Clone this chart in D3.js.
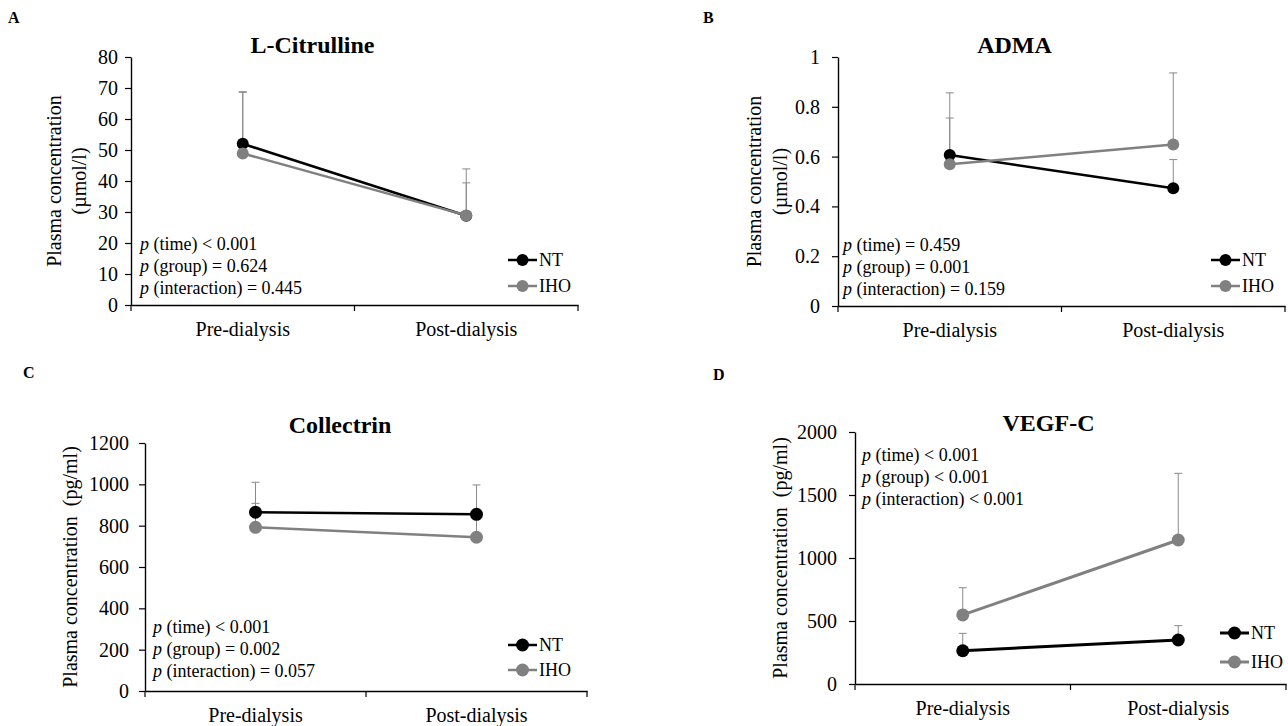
<!DOCTYPE html>
<html>
<head>
<meta charset="utf-8">
<script src="https://cdn.jsdelivr.net/npm/d3@7"></script>
<style>
  body { margin: 0; background: #fff; }
  svg { display: block; }
</style>
</head>
<body>
<div id="chart"></div>
<script>
const timepoints = ['Pre-dialysis', 'Post-dialysis'];
const groupNames = ['NT', 'IHO'];
const groupColors = ['#000000', '#808080'];

// A: L-Citrulline (µmol/l)
const citrullineNT = [52.0, 28.8];
const citrullineIHO = [48.9, 28.9];
const citrullineNTsd = [16.8, 10.6];
const citrullineIHOsd = [19.7, 15.0];
const citrullineTicks = [0, 10, 20, 30, 40, 50, 60, 70, 80];
const citrullineP = ['(time) < 0.001', '(group) = 0.624', '(interaction) = 0.445'];

// B: ADMA (µmol/l)
const admaNT = [0.606, 0.473];
const admaIHO = [0.569, 0.649];
const admaNTsd = [0.25, 0.115];
const admaIHOsd = [0.186, 0.287];
const admaTicks = [0, 0.2, 0.4, 0.6, 0.8, 1];
const admaP = ['(time) = 0.459', '(group) = 0.001', '(interaction) = 0.159'];

// C: Collectrin (pg/ml)
const collectrinNT = [865, 855];
const collectrinIHO = [792, 744];
const collectrinNTsd = [145, 142];
const collectrinIHOsd = [116, 115];
const collectrinTicks = [0, 200, 400, 600, 800, 1000, 1200];
const collectrinP = ['(time) < 0.001', '(group) = 0.002', '(interaction) = 0.057'];

// D: VEGF-C (pg/ml)
const vegfNT = [264, 349];
const vegfIHO = [548, 1143];
const vegfNTsd = [138, 114];
const vegfIHOsd = [216, 529];
const vegfTicks = [0, 500, 1000, 1500, 2000];
const vegfP = ['(time) < 0.001', '(group) < 0.001', '(interaction) < 0.001'];

const font = '"Liberation Serif", "Times New Roman", serif';

const svg = d3
  .select('#chart')
  .append('svg')
  .attr('width', 1288)
  .attr('height', 726);

const panels = [
  {
    letter: 'A', letterPos: [8, 23], title: 'L-Citrulline', titleY: 53, titleShift: -42,
    left: 131, right: 578, top: 57, bottom: 305, ticks: citrullineTicks, tickPad: 7,
    ylabel: ['Plasma concentration', '(µmol/l)'], ylabelX: [54, 79],
    pPos: [140, 244], legendPos: [508, 260], legendGap: 26, r: 6, lw: 2.5,
    series: [[citrullineNT, citrullineNTsd], [citrullineIHO, citrullineIHOsd]], texts: citrullineP
  },
  {
    letter: 'B', letterPos: [703, 23], title: 'ADMA', titleY: 53, titleShift: -47,
    left: 838, right: 1285, top: 57, bottom: 306, ticks: admaTicks, tickPad: 12,
    ylabel: ['Plasma concentration', '(µmol/l)'], ylabelX: [754, 780],
    pPos: [843, 245], legendPos: [1211, 260], legendGap: 26, r: 6, lw: 2.5,
    series: [[admaNT, admaNTsd], [admaIHO, admaIHOsd]], texts: admaP
  },
  {
    letter: 'C', letterPos: [23, 378], title: 'Collectrin', titleY: 433, titleShift: -26,
    left: 145, right: 587, top: 443, bottom: 691, ticks: collectrinTicks, tickPad: 10,
    ylabel: ['Plasma concentration  (pg/ml)'], ylabelX: [70],
    pPos: [153, 627], legendPos: [508, 645], legendGap: 25, r: 6.5, lw: 2.5,
    series: [[collectrinNT, collectrinNTsd], [collectrinIHO, collectrinIHOsd]], texts: collectrinP
  },
  {
    letter: 'D', letterPos: [713, 380], title: 'VEGF-C', titleY: 431, titleShift: -22,
    left: 855, right: 1286, top: 432, bottom: 684, ticks: vegfTicks, tickPad: 12,
    ylabel: ['Plasma concentration  (pg/ml)'], ylabelX: [780],
    pPos: [862, 455], legendPos: [1220, 633], legendGap: 29, r: 6.5, lw: 3,
    series: [[vegfNT, vegfNTsd], [vegfIHO, vegfIHOsd]], texts: vegfP
  }
];

const drawPanel = (p) => {
  const g = svg.append('g');

  const x = d3.scaleBand().domain(timepoints).range([p.left, p.right]);
  const y = d3
    .scaleLinear()
    .domain([0, p.ticks[p.ticks.length - 1]])
    .range([p.bottom, p.top]);
  const cx = (t) => x(t) + x.bandwidth() / 2;

  // panel letter
  g.append('text')
    .attr('x', p.letterPos[0])
    .attr('y', p.letterPos[1])
    .attr('font-family', font)
    .attr('font-weight', 'bold')
    .attr('font-size', 16)
    .text(p.letter);

  // title
  g.append('text')
    .attr('x', (p.left + p.right) / 2 + p.titleShift)
    .attr('y', p.titleY)
    .attr('text-anchor', 'middle')
    .attr('font-family', font)
    .attr('font-weight', 'bold')
    .attr('font-size', 24)
    .text(p.title);

  // y axis
  const yAxis = g
    .append('g')
    .attr('transform', `translate(${p.left},0)`)
    .call(
      d3.axisLeft(y)
        .tickValues(p.ticks)
        .tickFormat((d) => String(d))
        .tickSize(6)
        .tickSizeOuter(0)
        .tickPadding(p.tickPad)
    );
  yAxis.select('.domain').attr('stroke-width', 1.4);
  yAxis.selectAll('.tick line').attr('stroke-width', 1.2);
  yAxis.selectAll('text')
    .attr('font-family', font)
    .attr('font-size', 20)
    .attr('fill', '#000');

  // x axis
  const xAxis = g
    .append('g')
    .attr('transform', `translate(0,${p.bottom})`)
    .call(d3.axisBottom(x).tickSize(0).tickSizeOuter(0).tickPadding(17));
  xAxis.select('.domain').attr('stroke-width', 1.4);
  xAxis.selectAll('text')
    .attr('font-family', font)
    .attr('font-size', 20)
    .attr('fill', '#000');

  // category boundary ticks
  const bounds = timepoints.map((t) => x(t)).concat([x.range()[1]]);
  xAxis.selectAll('.bound')
    .data(bounds)
    .enter()
    .append('line')
    .attr('class', 'bound')
    .attr('x1', (d) => d)
    .attr('x2', (d) => d)
    .attr('y1', 0)
    .attr('y2', 6)
    .attr('stroke', '#000')
    .attr('stroke-width', 1.2);

  // y axis label
  p.ylabel.forEach((line, i) => {
    g.append('text')
      .attr('transform', `translate(${p.ylabelX[i]},${(p.top + p.bottom) / 2}) rotate(-90)`)
      .attr('text-anchor', 'middle')
      .attr('dy', '0.35em')
      .attr('font-family', font)
      .attr('font-size', 20)
      .style('white-space', 'pre')
      .text(line);
  });

  // p values
  p.texts.forEach((t, i) => {
    const txt = g.append('text')
      .attr('x', p.pPos[0])
      .attr('y', p.pPos[1] + i * 22)
      .attr('dy', '0.35em')
      .attr('font-family', font)
      .attr('font-size', 18);
    txt.append('tspan').attr('font-style', 'italic').text('p');
    txt.append('tspan').text(' ' + t);
  });

  const seriesData = p.series.map(([vals, sds]) =>
    timepoints.map((t, j) => ({ t, v: vals[j], sd: sds[j] }))
  );

  // error bars (upper only)
  seriesData.forEach((data) => {
    g.selectAll(null)
      .data(data)
      .enter()
      .append('path')
      .attr('fill', 'none')
      .attr('stroke', '#8a8a8a')
      .attr('stroke-width', 1)
      .attr('d', (d) => {
        const px = cx(d.t);
        const y0 = y(d.v);
        const y1 = y(d.v + d.sd);
        return `M${px},${y0}V${y1}M${px - 4},${y1}H${px + 4}`;
      });
  });

  const line = d3
    .line()
    .x((d) => cx(d.t))
    .y((d) => y(d.v));

  seriesData.forEach((data, i) => {
    g.append('path')
      .datum(data)
      .attr('fill', 'none')
      .attr('stroke', groupColors[i])
      .attr('stroke-width', p.lw)
      .attr('d', line);

    g.selectAll(null)
      .data(data)
      .enter()
      .append('circle')
      .attr('cx', (d) => cx(d.t))
      .attr('cy', (d) => y(d.v))
      .attr('r', p.r)
      .attr('fill', groupColors[i]);
  });

  // legend
  groupNames.forEach((name, i) => {
    const ly = p.legendPos[1] + i * p.legendGap;
    const lx = p.legendPos[0];
    g.append('line')
      .attr('x1', lx)
      .attr('x2', lx + 29)
      .attr('y1', ly)
      .attr('y2', ly)
      .attr('stroke', groupColors[i])
      .attr('stroke-width', p.lw);
    g.append('circle')
      .attr('cx', lx + 14.5)
      .attr('cy', ly)
      .attr('r', p.r)
      .attr('fill', groupColors[i]);
    g.append('text')
      .attr('x', lx + 31)
      .attr('y', ly)
      .attr('dy', '0.35em')
      .attr('font-family', font)
      .attr('font-size', 18)
      .text(name);
  });
};

panels.forEach(drawPanel);
</script>
</body>
</html>
